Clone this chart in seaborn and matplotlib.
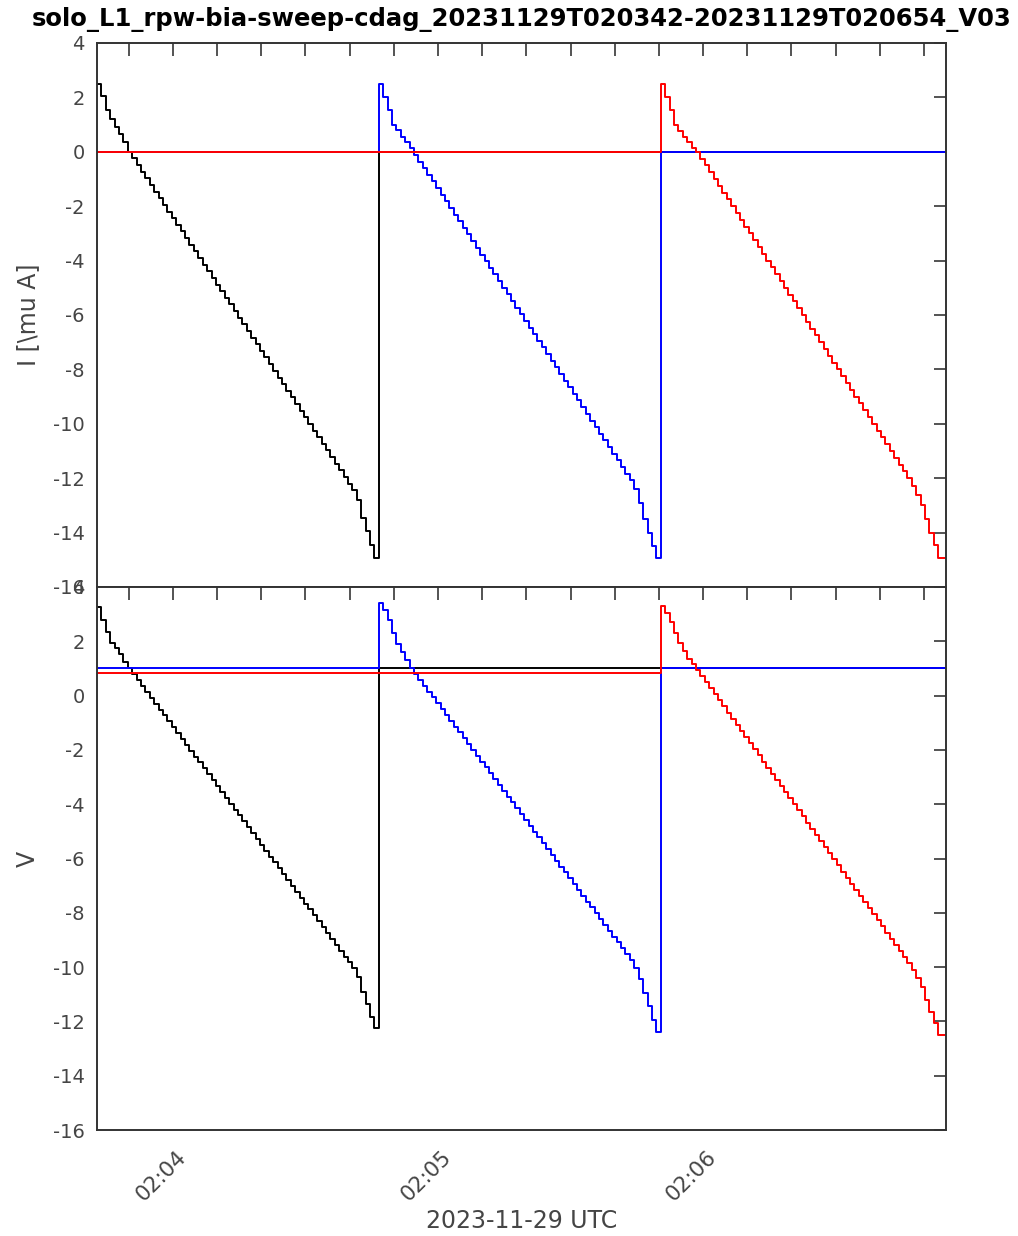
import numpy as np
import pandas as pd
import matplotlib
matplotlib.use("Agg")
import matplotlib.pyplot as plt
import matplotlib.dates as mdates
import matplotlib.transforms as mtransforms
import seaborn as sns

# ---------------- data ----------------
TITLE = "solo_L1_rpw-bia-sweep-cdag_20231129T020342-20231129T020654_V03"
X_LABEL = "2023-11-29 UTC"
I_LABEL = "I [\\mu A]"
V_LABEL = "V"
START = "2023-11-29 02:03:42.8"
END = "2023-11-29 02:06:55.0"
STEP_S = 0.997          # duration of one bias step (s)
CHANNELS = ["black", "blue", "red"]
Y_TICKS = list(range(-16, 5, 2))

# Current sweeps (uA), one value per bias step
I_black_sweep = [2.5, 2.05, 1.55, 1.2, 0.9, 0.65, 0.35, 0.0, -0.24, -0.49,
                 -0.73, -0.98, -1.22, -1.46, -1.71, -1.95, -2.2, -2.44, -2.68, -2.93,
                 -3.17, -3.42, -3.66, -3.9, -4.15, -4.39, -4.64, -4.88, -5.12, -5.37,
                 -5.61, -5.86, -6.1, -6.34, -6.59, -6.83, -7.08, -7.32, -7.56, -7.81,
                 -8.05, -8.3, -8.54, -8.78, -9.03, -9.27, -9.52, -9.76, -10.0, -10.25,
                 -10.49, -10.74, -10.98, -11.22, -11.47, -11.71, -11.96, -12.2, -12.45, -12.8,
                 -13.45, -13.95, -14.45, -14.95]
I_blue_sweep = [2.5, 2.03, 1.54, 1.0, 0.8, 0.56, 0.37, 0.15, -0.12, -0.36,
                -0.6, -0.85, -1.09, -1.34, -1.58, -1.82, -2.07, -2.31, -2.56, -2.8,
                -3.04, -3.29, -3.53, -3.78, -4.02, -4.26, -4.51, -4.75, -5.0, -5.24,
                -5.48, -5.73, -5.97, -6.22, -6.46, -6.7, -6.95, -7.19, -7.44, -7.68,
                -7.92, -8.17, -8.41, -8.66, -8.9, -9.14, -9.39, -9.63, -9.88, -10.12,
                -10.36, -10.61, -10.85, -11.1, -11.34, -11.58, -11.83, -12.07, -12.4, -12.9,
                -13.5, -14.0, -14.5, -14.95]
I_red_sweep = [2.5, 2.03, 1.54, 1.0, 0.75, 0.55, 0.35, 0.15, 0.0, -0.25,
               -0.5, -0.75, -1.0, -1.25, -1.5, -1.75, -2.0, -2.25, -2.5, -2.75,
               -3.0, -3.25, -3.5, -3.75, -4.0, -4.25, -4.5, -4.75, -5.0, -5.25,
               -5.5, -5.75, -6.0, -6.25, -6.5, -6.75, -7.0, -7.25, -7.5, -7.75,
               -8.0, -8.25, -8.5, -8.75, -9.0, -9.25, -9.5, -9.75, -10.0, -10.25,
               -10.5, -10.75, -11.0, -11.25, -11.5, -11.75, -12.0, -12.3, -12.6, -13.0,
               -13.5, -14.0, -14.45, -14.95]

# Voltage sweeps (V)
V_black_sweep = [3.25, 2.8, 2.36, 1.95, 1.75, 1.55, 1.25, 1.0, 0.79, 0.57,
                 0.35, 0.13, -0.08, -0.3, -0.52, -0.73, -0.95, -1.16, -1.38, -1.6,
                 -1.81, -2.03, -2.25, -2.46, -2.68, -2.89, -3.12, -3.33, -3.54, -3.76,
                 -3.98, -4.2, -4.41, -4.62, -4.85, -5.06, -5.28, -5.49, -5.71, -5.93,
                 -6.14, -6.36, -6.57, -6.79, -7.01, -7.22, -7.44, -7.66, -7.87, -8.09,
                 -8.3, -8.53, -8.74, -8.95, -9.17, -9.39, -9.61, -9.82, -10.04, -10.35,
                 -10.93, -11.37, -11.82, -12.26]
V_blue_sweep = [3.4, 3.15, 2.8, 2.3, 1.9, 1.6, 1.3, 1.0, 0.8, 0.58,
                0.37, 0.15, -0.06, -0.28, -0.49, -0.71, -0.92, -1.14, -1.35, -1.57,
                -1.78, -2.0, -2.21, -2.43, -2.64, -2.86, -3.07, -3.29, -3.5, -3.72,
                -3.93, -4.15, -4.36, -4.58, -4.79, -5.01, -5.22, -5.44, -5.65, -5.87,
                -6.08, -6.3, -6.51, -6.73, -6.94, -7.16, -7.37, -7.59, -7.8, -8.02,
                -8.23, -8.45, -8.66, -8.88, -9.09, -9.31, -9.52, -9.74, -10.05, -10.45,
                -10.95, -11.45, -11.95, -12.4]
V_red_sweep = [3.3, 3.05, 2.7, 2.3, 1.95, 1.65, 1.35, 1.15, 0.95, 0.72,
               0.5, 0.27, 0.05, -0.18, -0.4, -0.63, -0.85, -1.08, -1.3, -1.53,
               -1.75, -1.98, -2.2, -2.43, -2.65, -2.88, -3.1, -3.33, -3.55, -3.78,
               -4.0, -4.23, -4.45, -4.68, -4.9, -5.13, -5.35, -5.58, -5.8, -6.03,
               -6.25, -6.48, -6.7, -6.93, -7.15, -7.38, -7.6, -7.83, -8.05, -8.28,
               -8.5, -8.73, -8.95, -9.18, -9.4, -9.63, -9.85, -10.12, -10.4, -10.75,
               -11.2, -11.65, -12.05, -12.5]

# Levels outside each channel's own sweep
I_IDLE = {"black": 0.0, "blue": 0.0, "red": 0.0}
V_IDLE = {"black": 1.0, "blue": 1.0, "red": 0.85}

I_SWEEPS = {"black": I_black_sweep, "blue": I_blue_sweep, "red": I_red_sweep}
V_SWEEPS = {"black": V_black_sweep, "blue": V_blue_sweep, "red": V_red_sweep}

# ---------------- build long table ----------------
n_steps = len(I_black_sweep)
n_total = n_steps * len(CHANNELS)
t0 = pd.Timestamp(START)
t_end = pd.Timestamp(END)
times = [t0 + pd.Timedelta(seconds=k * STEP_S) for k in range(n_total)] + [t_end]

rows = []
for panel, sweeps, idle in (("I", I_SWEEPS, I_IDLE), ("V", V_SWEEPS, V_IDLE)):
    for slot, ch in enumerate(CHANNELS):
        vals = [idle[ch]] * n_total
        vals[slot * n_steps:(slot + 1) * n_steps] = sweeps[ch]
        vals = vals + [vals[-1]]
        for tt, vv in zip(times, vals):
            rows.append({"panel": panel, "channel": ch, "time": tt, "value": vv})
df = pd.DataFrame(rows)

# ---------------- styling ----------------
sns.set_style("white")
plt.rcParams["font.family"] = ["DejaVu Sans"]
plt.rcParams["axes.unicode_minus"] = False
GRAY = "#454545"

fig = plt.figure(figsize=(10.18, 12.36), dpi=100)
W, H = 1018, 1236
ax_left, ax_right = 97 / W, 946 / W
ax1 = fig.add_axes([ax_left, 1 - 587 / H, ax_right - ax_left, (587 - 43) / H])
ax2 = fig.add_axes([ax_left, 1 - 1130 / H, ax_right - ax_left, (1130 - 587) / H])

palette = {c: c for c in CHANNELS}
for ax, panel in ((ax1, "I"), (ax2, "V")):
    sns.lineplot(data=df[df["panel"] == panel], x="time", y="value",
                 hue="channel", hue_order=CHANNELS, palette=palette,
                 estimator=None, sort=True, drawstyle="steps-post",
                 linewidth=1.4, legend=False, ax=ax)
    ax.set_xlim(t0, t_end)
    ax.set_ylim(-16, 4)
    ax.set_yticks(Y_TICKS)
    ax.xaxis.set_major_locator(mdates.MinuteLocator())
    ax.xaxis.set_minor_locator(mdates.SecondLocator(bysecond=range(0, 60, 10)))
    ax.xaxis.set_major_formatter(mdates.DateFormatter("%H:%M"))
    ax.tick_params(which="both", direction="in", top=True, right=True,
                   length=9, width=1.3, color=GRAY, labelcolor=GRAY,
                   labelsize=14)
    ax.tick_params(axis="y", pad=9)
    for sp in ax.spines.values():
        sp.set_color("#333333")
        sp.set_linewidth(1.4)
    ax.set_xlabel("")

ax1.tick_params(axis="x", labelbottom=False)
ax1.set_ylabel(I_LABEL, fontsize=17, color=GRAY)
ax2.set_ylabel(V_LABEL, fontsize=17, color=GRAY)
for ax in (ax1, ax2):
    ax.yaxis.set_label_coords(-0.067, 0.5)

ax2.tick_params(axis="x", which="major", pad=12, labelsize=15.5)
offset = mtransforms.ScaledTranslation(3 / 100, 0, fig.dpi_scale_trans)
for lbl in ax2.get_xticklabels():
    lbl.set_rotation(45)
    lbl.set_ha("right")
    lbl.set_va("top")
    lbl.set_rotation_mode("anchor")
    lbl.set_transform(lbl.get_transform() + offset)

ax2.set_xlabel(X_LABEL, fontsize=17, color=GRAY)
ax2.xaxis.set_label_coords(0.5, -0.145)
ax2.xaxis.label.set_va("top")

fig.text(521.5 / W, 1 - 20 / H, TITLE, ha="center", va="center",
         fontsize=17.5, fontweight="bold", color="black")

fig.savefig("out.png", dpi=100)
